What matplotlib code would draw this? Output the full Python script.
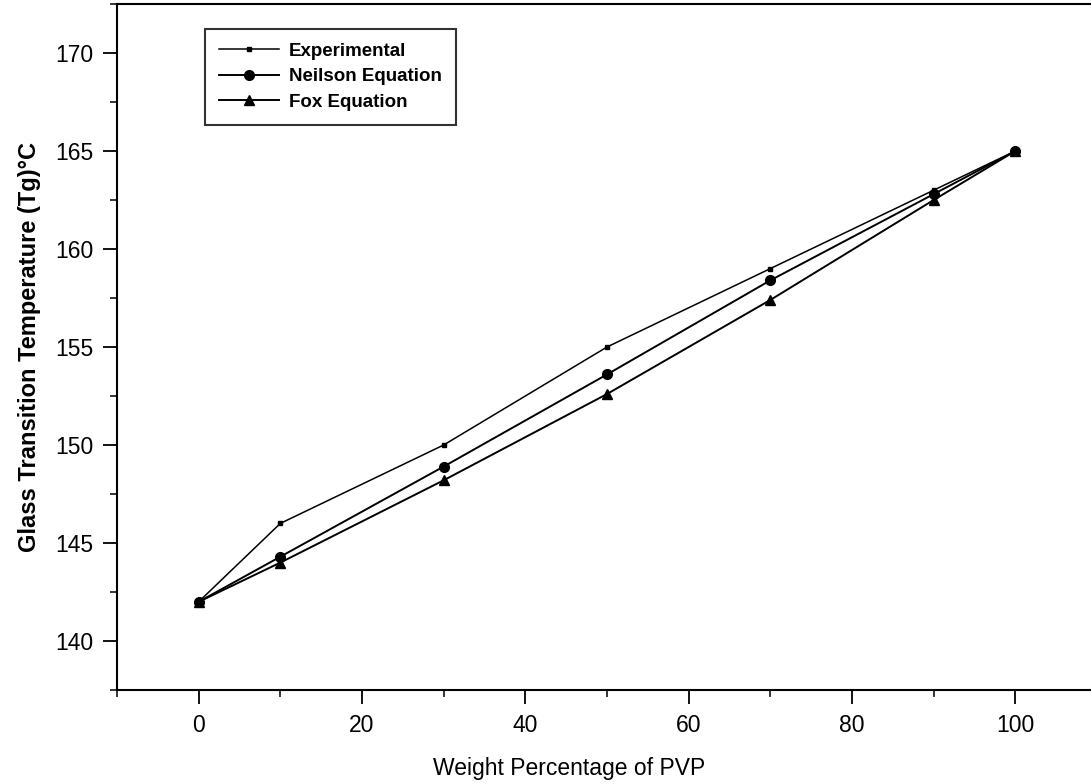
import matplotlib
matplotlib.use("Agg")
import matplotlib.pyplot as plt
from matplotlib.ticker import MultipleLocator

# Weight percentage of PVP
pvp_pct = [0, 10, 30, 50, 70, 90, 100]

# Glass transition temperature (deg C)
tg_experimental = [142.0, 146.0, 150.0, 155.0, 159.0, 163.0, 165.0]
tg_neilson = [142.0, 144.3, 148.9, 153.6, 158.4, 162.8, 165.0]
tg_fox = [142.0, 144.0, 148.2, 152.6, 157.4, 162.5, 165.0]

plt.rcParams["font.family"] = ["Liberation Sans", "DejaVu Sans"]

fig = plt.figure(figsize=(10.91, 7.84), dpi=100)
ax = fig.add_axes([117 / 1091, 94 / 784, 980 / 1091, 686 / 784])

ax.plot(pvp_pct, tg_experimental, color="black", linewidth=1.1,
        marker="s", markersize=3.5, label="Experimental")
ax.plot(pvp_pct, tg_neilson, color="black", linewidth=1.4,
        marker="o", markersize=7, label="Neilson Equation")
ax.plot(pvp_pct, tg_fox, color="black", linewidth=1.4,
        marker="^", markersize=7, label="Fox Equation")

ax.set_xlim(-10, 110)
ax.set_ylim(137.5, 172.5)
ax.xaxis.set_major_locator(MultipleLocator(20))
ax.xaxis.set_minor_locator(MultipleLocator(10))
ax.yaxis.set_major_locator(MultipleLocator(5))
ax.yaxis.set_minor_locator(MultipleLocator(2.5))
ax.set_xticks(range(0, 101, 20))
ax.tick_params(which="major", direction="out", length=10, width=1.3,
               labelsize=16.5, pad=7)
ax.tick_params(which="minor", direction="out", length=5, width=1.1)

for spine in ax.spines.values():
    spine.set_linewidth(1.5)

ax.set_xlabel("Weight Percentage of PVP", fontsize=16.5)
ax.xaxis.set_label_coords(0.461, -0.097)
ax.set_ylabel("Glass Transition Temperature (Tg)\u00b0C", fontsize=17,
              fontweight="bold", labelpad=10)

leg = ax.legend(loc="upper left", bbox_to_anchor=(0.09, 0.964),
                borderaxespad=0, fontsize=13.5, frameon=True, fancybox=False,
                edgecolor="black", handlelength=3.2, borderpad=0.75,
                labelspacing=0.45, handletextpad=0.5)
leg.get_frame().set_linewidth(1.5)
for t in leg.get_texts():
    t.set_fontweight("bold")

fig.savefig("out.png", dpi=100)
